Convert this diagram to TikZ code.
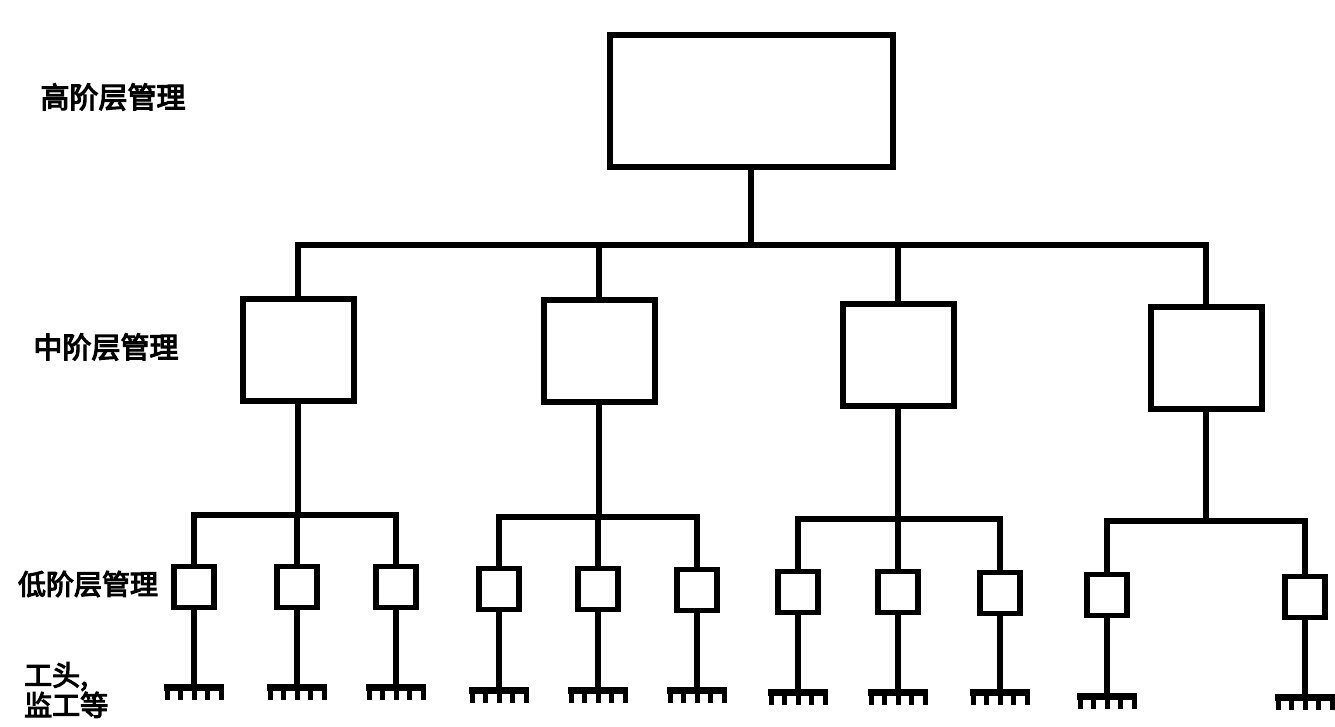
\documentclass[tikz,border=0pt]{standalone}
\usepackage{fontspec}
\newfontfamily\cjk[FakeBold=4]{Noto Sans CJK SC}
\tikzset{
  bigbox/.style={draw, line width=6pt, minimum width=283pt, minimum height=132pt, inner sep=0pt},
  midbox/.style={draw, line width=6pt, minimum width=111pt, minimum height=102pt, inner sep=0pt},
  smallbox/.style={draw, line width=5.5pt, minimum width=40pt, minimum height=41pt, inner sep=0pt},
  wire/.style={line width=5.5pt},
  lbl/.style={font=\cjk\fontsize{29}{31}\selectfont, inner sep=0pt},
  lbls/.style={font=\cjk\fontsize{28}{30}\selectfont, inner sep=0pt, align=left},
  comb/.pic={
    \draw[line width=7pt] (-30,0) -- (30,0);
    \foreach \t in {-27,-13.5,0,13.5,27} \draw[line width=5pt] (\t,0) -- (\t,13);
  }
}
\begin{document}
\begin{tikzpicture}[x=1pt,y=-1pt]
\useasboundingbox (0,0) rectangle (1335,726);
\fill[white] (0,0) rectangle (1335,726);

% labels
\node[lbl] (l1) at (113,97) {高阶层管理};
\node[lbl] (l2) at (106,347) {中阶层管理};
\node[lbls] (l3) at (88,584) {低阶层管理};
\node[lbls, anchor=west] (l4) at (24,690) {工头,\\监工等};

% top
\node[bigbox] (top) at (751,101) {};
\coordinate (j0) at (751,245);

% middle
\node[midbox] (m1) at (298,350) {};
\node[midbox] (m2) at (599,351) {};
\node[midbox] (m3) at (898,355) {};
\node[midbox] (m4) at (1206,358) {};

\draw[wire] (top.south) -- (j0);
\draw[wire] (m1.north) -- (m1.north |- j0) -- (m4.north |- j0) -- (m4.north);
\draw[wire] (m2.north) -- (m2.north |- j0);
\draw[wire] (m3.north) -- (m3.north |- j0);

% small boxes
\node[smallbox] (s11) at (194,587) {};
\node[smallbox] (s12) at (297,587) {};
\node[smallbox] (s13) at (396,587) {};
\node[smallbox] (s21) at (499,589) {};
\node[smallbox] (s22) at (598,589) {};
\node[smallbox] (s23) at (697,590) {};
\node[smallbox] (s31) at (798,592) {};
\node[smallbox] (s32) at (898,592) {};
\node[smallbox] (s33) at (1000,593) {};
\node[smallbox] (s41) at (1107,595) {};
\node[smallbox] (s42) at (1305,597) {};

% group bars
\coordinate (j1) at (298,515);
\coordinate (j2) at (599,517);
\coordinate (j3) at (898,519);
\coordinate (j4) at (1206,521);
\draw[wire] (m1.south) -- (j1);
\draw[wire] (m2.south) -- (j2);
\draw[wire] (m3.south) -- (j3);
\draw[wire] (m4.south) -- (j4);
\draw[wire] (s11.north) -- (s11.north |- j1) -- (s13.north |- j1) -- (s13.north);
\draw[wire] (s12.north) -- (s12.north |- j1);
\draw[wire] (s21.north) -- (s21.north |- j2) -- (s23.north |- j2) -- (s23.north);
\draw[wire] (s22.north) -- (s22.north |- j2);
\draw[wire] (s31.north) -- (s31.north |- j3) -- (s33.north |- j3) -- (s33.north);
\draw[wire] (s32.north) -- (s32.north |- j3);
\draw[wire] (s41.north) -- (s41.north |- j4) -- (s42.north |- j4) -- (s42.north);

% feet
\foreach \n/\y in {11/687,12/687,13/687,21/690,22/690,23/690,31/692,32/692,33/692,41/696,42/697} {
  \coordinate (f\n) at (s\n.south |- 0,\y);
  \draw[wire] (s\n.south) -- (f\n);
  \pic at (f\n) {comb};
}
\end{tikzpicture}
\end{document}
